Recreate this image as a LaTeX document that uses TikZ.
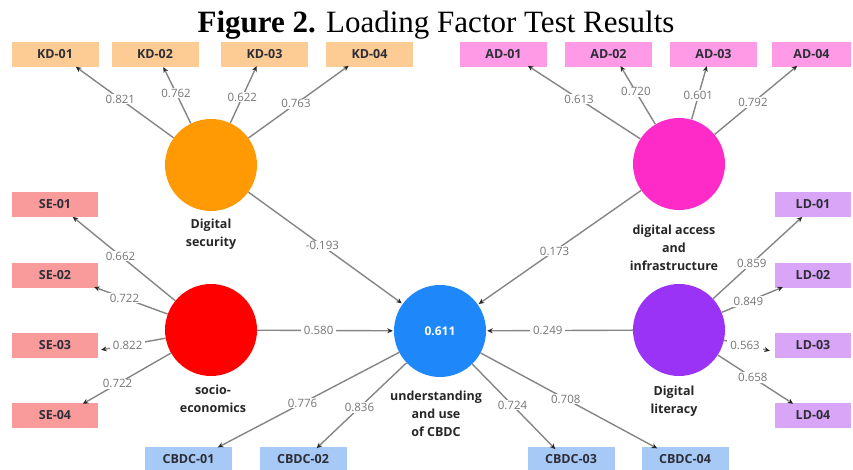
\documentclass[tikz,border=0pt]{standalone}
\usepackage{fontspec}
\setmainfont{Liberation Serif}
\newfontfamily\osans{Open Sans}
\usetikzlibrary{arrows.meta}
\definecolor{cOr}{HTML}{FF9A05}
\definecolor{cPk}{HTML}{FF2BC8}
\definecolor{cRd}{HTML}{FF0000}
\definecolor{cBl}{HTML}{1E88FA}
\definecolor{cPu}{HTML}{9B33F7}
\definecolor{bKD}{HTML}{FDCB94}
\definecolor{bAD}{HTML}{FF9AE6}
\definecolor{bSE}{HTML}{FA9B9B}
\definecolor{bLD}{HTML}{D8A5F7}
\definecolor{bCB}{HTML}{A6C9F5}
\definecolor{lnG}{HTML}{858585}
\definecolor{txG}{HTML}{767676}
\definecolor{txD}{HTML}{2E2E38}
\tikzset{
  ind/.style={minimum width=86pt, minimum height=25pt, inner sep=0pt,
    font=\osans\bfseries\fontsize{12.5}{14}\selectfont, text=txD},
  lat/.style={circle, minimum size=92pt, inner sep=0pt},
  latlab/.style={align=center, font=\osans\bfseries\fontsize{12.5}{18}\selectfont, text=black!85},
  arr/.style={draw=lnG, line width=1.4pt, shorten >=1pt,
    -{Stealth[length=5.5pt,width=5pt,color=black!85]}},
  lab/.style={fill=white, inner xsep=3pt, inner ysep=1pt, text=txG,
    font=\osans\fontsize{11.5}{13}\selectfont}
}
\begin{document}
\begin{tikzpicture}[x=1pt,y=-1pt]
\useasboundingbox (0,0) rectangle (853,470);
\clip (0,0) rectangle (853,470);
% title
\node[anchor=base, inner sep=0pt, font=\fontsize{31}{36}\selectfont] (title) at (436,33)
  {\textbf{Figure 2.} Loading Factor Test Results};
% indicator boxes
\node[ind, fill=bKD, minimum width=87pt] (kd1) at (55,54.5) {KD-01};
\node[ind, fill=bKD, minimum width=87pt] (kd2) at (155,54.5) {KD-02};
\node[ind, fill=bKD, minimum width=87pt] (kd3) at (264.5,54.5) {KD-03};
\node[ind, fill=bKD, minimum width=87pt] (kd4) at (369.5,54.5) {KD-04};
\node[ind, fill=bAD, minimum width=87pt] (ad1) at (503.5,54.5) {AD-01};
\node[ind, fill=bAD, minimum width=87pt] (ad2) at (608.5,54.5) {AD-02};
\node[ind, fill=bAD, minimum width=87pt] (ad3) at (713.5,54.5) {AD-03};
\node[ind, fill=bAD, minimum width=79pt] (ad4) at (811.5,54.5) {AD-04};
\node[ind, fill=bSE] (se1) at (55,204.5) {SE-01};
\node[ind, fill=bSE] (se2) at (55,275) {SE-02};
\node[ind, fill=bSE] (se3) at (55,345) {SE-03};
\node[ind, fill=bSE] (se4) at (55,415) {SE-04};
\node[ind, fill=bLD, minimum width=76pt] (ld1) at (813,204.5) {LD-01};
\node[ind, fill=bLD, minimum width=76pt] (ld2) at (813,275) {LD-02};
\node[ind, fill=bLD, minimum width=76pt] (ld3) at (813,345) {LD-03};
\node[ind, fill=bLD, minimum width=76pt] (ld4) at (813,415) {LD-04};
\node[ind, fill=bCB, minimum width=87pt] (cb1) at (188.5,459.5) {CBDC-01};
\node[ind, fill=bCB, minimum width=87pt] (cb2) at (303,459.5) {CBDC-02};
\node[ind, fill=bCB, minimum width=87pt] (cb3) at (571,459.5) {CBDC-03};
\node[ind, fill=bCB, minimum width=87pt] (cb4) at (685,459.5) {CBDC-04};
% latent variables
\node[lat, fill=cOr] (ds) at (211,165) {};
\node[lat, fill=cPk] (ad) at (679,164) {};
\node[lat, fill=cRd] (se) at (211,330) {};
\node[lat, fill=cBl, text=white, font=\osans\bfseries\fontsize{12}{14}\selectfont] (ctr) at (440,331) {0.611};
\node[lat, fill=cPu] (ld) at (679,330) {};
\node[latlab] (dsl) at (211,234) {Digital\\security};
\node[latlab] (adl) at (674,248) {digital access\\and\\infrastructure};
\node[latlab] (sel) at (213,399) {socio-\\economics};
\node[latlab] (ctrl) at (436,414) {understanding\\and use\\of CBDC};
\node[latlab] (ldl) at (674,401) {Digital\\literacy};
% loadings
\draw[arr] (ds) -- ([xshift=20pt,yshift=1pt]kd1.south) node[lab,pos=.54]{0.821};
\draw[arr] (ds) -- ([xshift=8pt,yshift=1pt]kd2.south) node[lab,pos=.53]{0.762};
\draw[arr] (ds) -- ([xshift=-7.5pt,yshift=2pt]kd3.south) node[lab,pos=.45]{0.622};
\draw[arr] (ds) -- ([xshift=-20pt,yshift=2pt]kd4.south) node[lab,pos=.47]{0.763};
\draw[arr] (ad) -- ([xshift=23.5pt,yshift=2pt]ad1.south) node[lab,pos=.54]{0.613};
\draw[arr] (ad) -- ([xshift=11.5pt,yshift=2pt]ad2.south) node[lab,pos=.55]{0.720};
\draw[arr] (ad) -- ([xshift=-6.5pt,yshift=2pt]ad3.south) node[lab,pos=.44]{0.601};
\draw[arr] (ad) -- ([xshift=-13.5pt,yshift=2pt]ad4.south) node[lab,pos=.46]{0.792};
\draw[arr] (se) -- ([xshift=17pt,yshift=1pt]se1.south) node[lab,pos=.53]{0.662};
\draw[arr] (se) -- ([xshift=-5pt,yshift=1pt]se2.south east) node[lab,pos=.58]{0.722};
\draw[arr] (se) -- ([xshift=2pt,yshift=-5pt]se3.east) node[lab,pos=.58]{0.822};
\draw[arr] (se) -- ([xshift=27pt,yshift=-2pt]se4.north) node[lab,pos=.60]{0.722};
\draw[arr] (ld) -- ([xshift=-10pt,yshift=1pt]ld1.south) node[lab,pos=.43]{0.859};
\draw[arr] (ld) -- ([xshift=9pt,yshift=1pt]ld2.south west) node[lab,pos=.43]{0.849};
\draw[arr] (ld) -- ([xshift=-4pt,yshift=-6pt]ld3.west) node[lab,pos=.45]{0.563};
\draw[arr] (ld) -- ([xshift=-19pt,yshift=-2pt]ld4.north) node[lab,pos=.46]{0.658};
\draw[arr] (ctr) -- ([xshift=28.5pt,yshift=-1pt]cb1.north) node[lab,pos=.53]{0.776};
\draw[arr] (ctr) -- ([xshift=13pt,yshift=-2pt]cb2.north) node[lab,pos=.52]{0.836};
\draw[arr] (ctr) -- ([xshift=-15pt,yshift=-3pt]cb3.north) node[lab,pos=.48]{0.724};
\draw[arr] (ctr) -- ([xshift=-27pt,yshift=-2pt]cb4.north) node[lab,pos=.48]{0.708};
% structural paths
\draw[arr] (ds) -- (ctr) node[lab,pos=.48]{-0.193};
\draw[arr] (ad) -- (ctr) node[lab,pos=.53]{0.173};
\draw[arr] (se) -- (ctr) node[lab,pos=.45]{0.580};
\draw[arr] (ld) -- (ctr) node[lab,pos=.58]{0.249};
\end{tikzpicture}
\end{document}
